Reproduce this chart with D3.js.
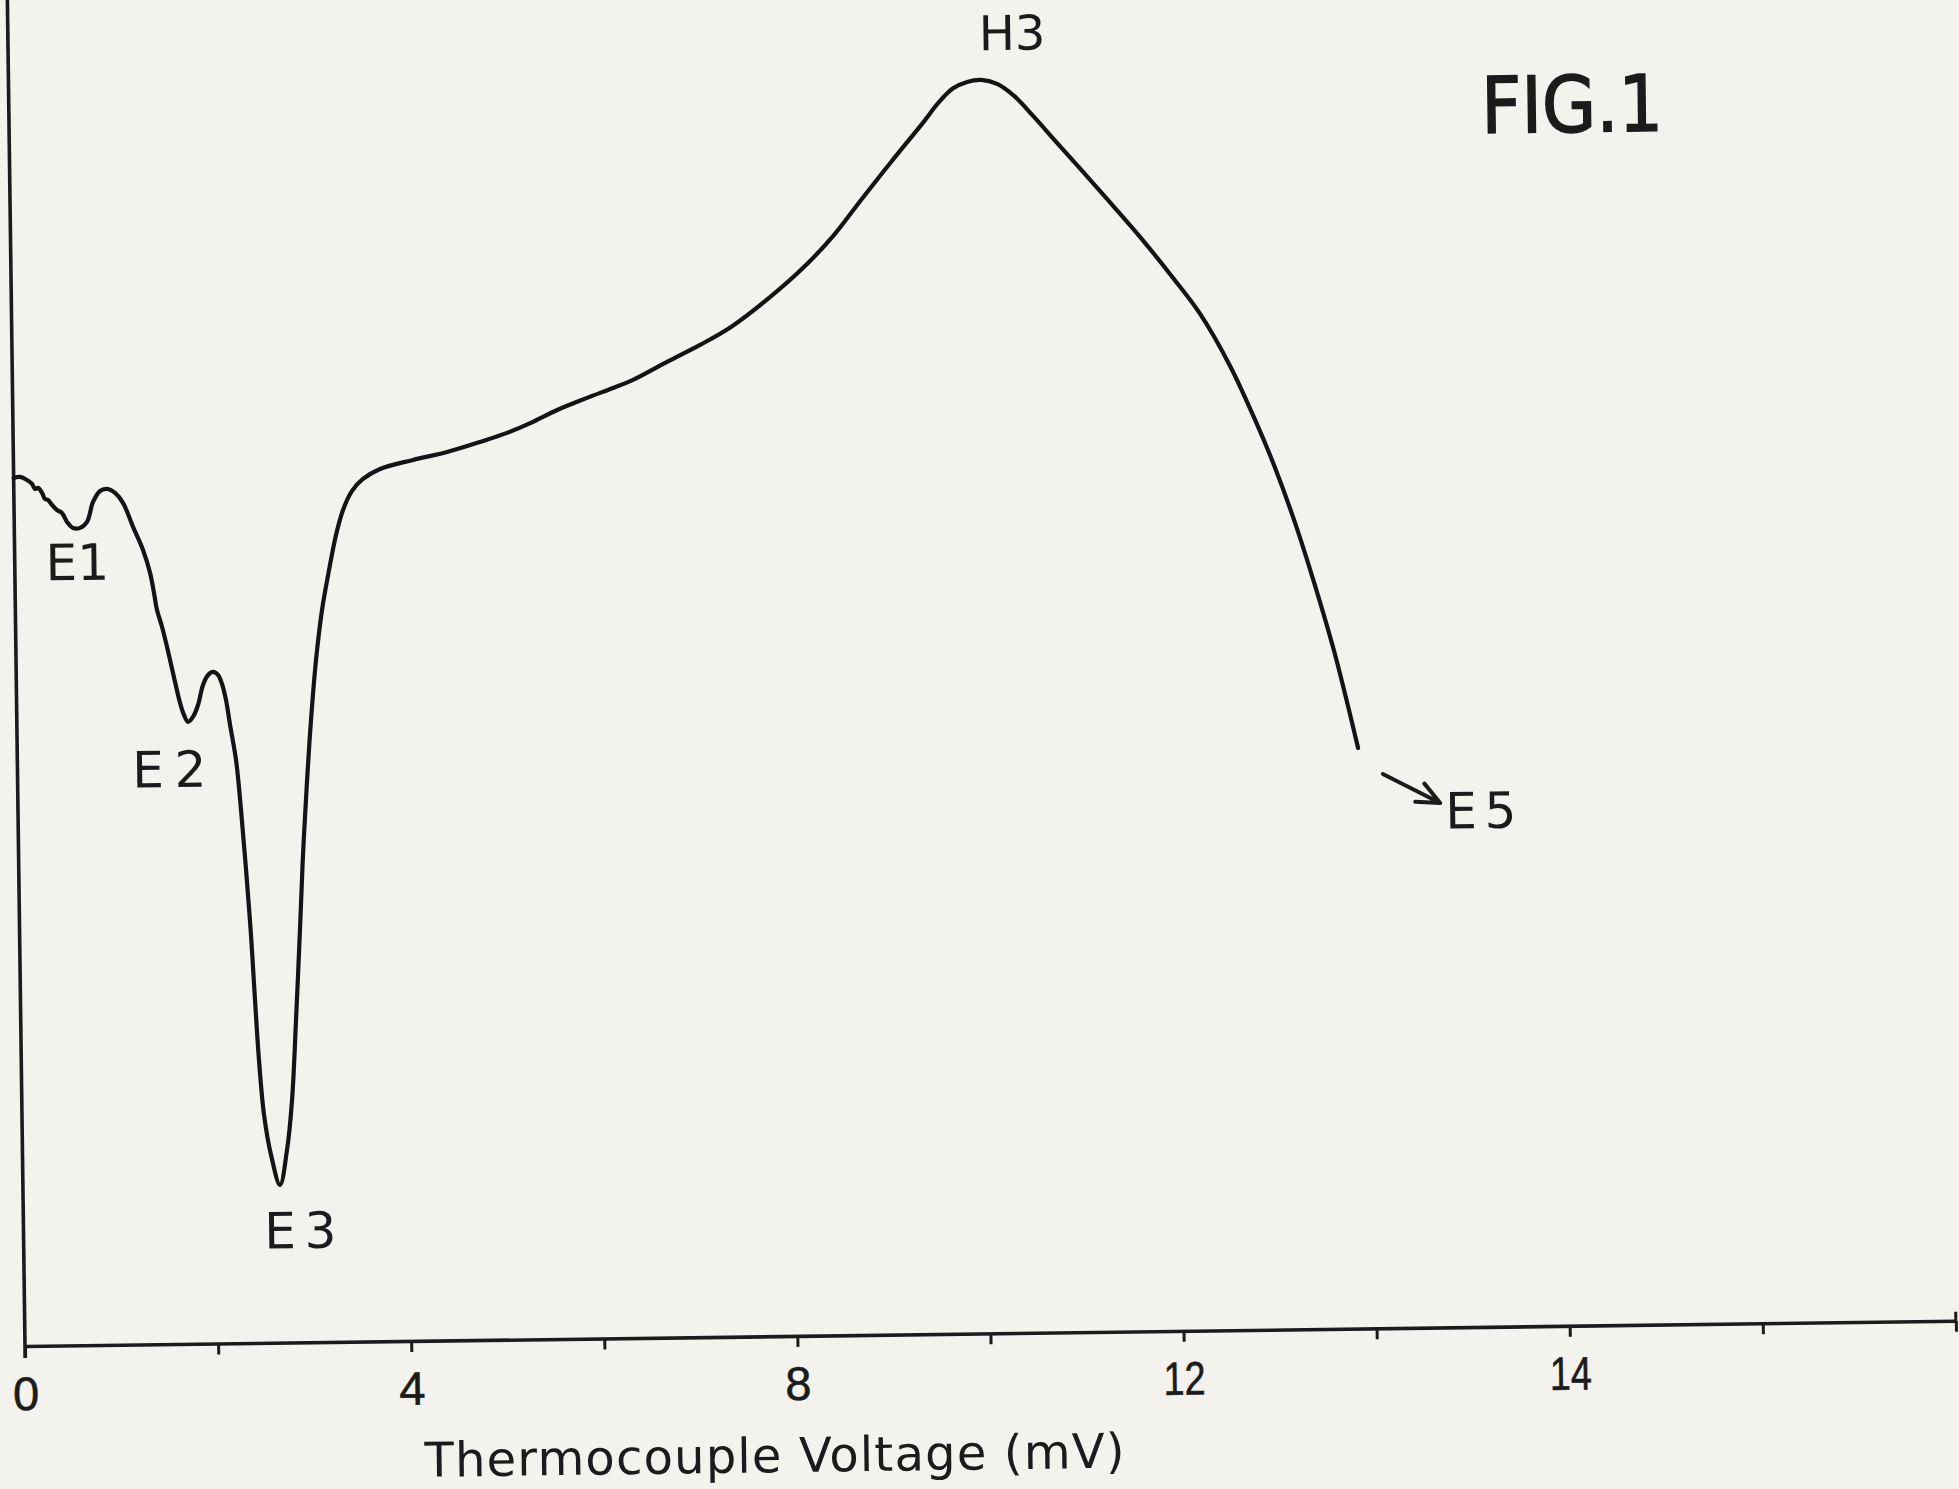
<!DOCTYPE html>
<html>
<head>
<meta charset="utf-8">
<script src="https://cdn.jsdelivr.net/npm/d3@7"></script>
<style>
  html, body { margin: 0; padding: 0; background: #f4f2ed; }
  svg { display: block; }
</style>
</head>
<body>
<svg id="chart" width="1959" height="1489"></svg>
<script>
// Differential thermal trace against thermocouple voltage (mV).
// Signal is in arbitrary chart units (no scale on the vertical axis).
const voltage = [0.000,0.066,0.138,0.190,0.220,0.251,0.292,0.322,0.353,0.394,0.445,0.496,0.547,0.608,0.681,0.754,0.819,0.893,0.965,1.048,1.129,1.230,1.330,1.400,1.438,1.467,1.517,1.566,1.624,1.693,1.732,1.773,1.825,1.879,1.933,1.987,2.039,2.090,2.130,2.169,2.208,2.265,2.310,2.354,2.396,2.429,2.462,2.507,2.574,2.663,2.740,2.799,2.851,2.904,2.947,2.998,3.047,3.107,3.176,3.254,3.331,3.407,3.503,3.618,3.796,4.139,4.492,4.835,5.116,5.387,5.638,5.949,6.220,6.428,6.783,7.127,7.450,7.848,8.246,8.530,8.814,9.130,9.456,9.636,9.782,9.928,10.074,10.238,10.413,10.607,10.842,11.117,11.423,11.740,12.035,12.310,12.613,12.865,13.066,13.265,13.464,13.662,13.887];
const signal = [66.78,66.85,66.61,66.30,65.91,65.99,65.60,65.13,65.05,64.66,64.27,64.04,63.34,62.87,62.87,63.32,64.85,65.69,65.84,65.52,64.75,62.89,61.11,59.34,57.79,56.48,55.17,53.63,51.62,49.31,48.38,47.84,48.22,49.13,50.67,51.43,51.66,51.42,50.72,49.49,47.56,44.86,41.01,36.39,31.39,26.38,21.76,17.53,14.44,12.13,14.81,18.65,24.80,31.72,37.64,43.25,47.87,52.48,56.32,59.39,62.07,63.99,65.44,66.35,67.10,67.76,68.34,69.08,69.75,70.57,71.46,72.36,73.10,73.70,75.05,76.32,77.67,79.87,82.44,84.65,87.31,90.20,93.10,94.77,95.80,96.28,96.42,96.10,95.16,93.60,91.58,89.24,86.60,83.80,80.99,78.20,74.17,69.99,66.28,62.03,57.16,51.83,44.66];

// Axis ticks every 2 mV; only some carry a label.
const axisTicks = [0,2,4,6,8,10,12,14,16,18,20];
const labelledTicks = [0,4,8,12,16];
const tickLabels = ["0","4","8","12","14"];

// Peak annotations (label centre in data units).
const peakNames  = ["E1","E2","E3","H3","E5"];
const peakLabelX = [0.648,1.573,2.867,10.40,15.15];
const peakLabelY = [58.87,42.85,7.26,98.70,38.38];

// Arrow pointing from the end of the trace towards E5.
const arrowFrom = [14.14, 42.63];
const arrowTo   = [14.73, 40.34];

const figureTitle = "FIG.1";
const figureTitlePos = [16.19, 91.83];
const xTitle = "Thermocouple Voltage (mV)";

// ---- layout ----
const originX = 25, originY = 1346, tilt = -0.75;
const ink = "#1b1b1b";

const x = d3.scaleLinear().domain([0, 20]).range([0, 1931]);
const y = d3.scaleLinear().domain([0, 100]).range([0, -1300]);

const svg = d3.select("#chart");
svg.append("rect").attr("width", 1959).attr("height", 1489).attr("fill", "#f4f2ed");

const g = svg.append("g")
  .attr("transform", `translate(${originX},${originY}) rotate(${tilt})`);

// vertical axis line (no ticks)
g.append("line")
  .attr("x1", 0).attr("x2", 0)
  .attr("y1", 12).attr("y2", -1420)
  .attr("stroke", ink).attr("stroke-width", 3.6);

// horizontal axis
const xAxis = d3.axisBottom(x)
  .tickValues(axisTicks)
  .tickSize(11)
  .tickSizeOuter(0)
  .tickFormat(d => {
    const i = labelledTicks.indexOf(d);
    return i < 0 ? "" : tickLabels[i];
  });

const gx = g.append("g").call(xAxis);
gx.select(".domain").attr("stroke", ink).attr("stroke-width", 3.6);
gx.selectAll(".tick line").attr("stroke", ink).attr("stroke-width", 3);
gx.selectAll(".tick text")
  .attr("y", 64).attr("dy", 0)
  .style("font-family", "'Liberation Sans', Arial, sans-serif")
  .style("font-size", "47px")
  .style("fill", ink)
  .style("stroke", ink)
  .style("stroke-width", 0.6)
  .each(function () {
    const t = d3.select(this);
    if (t.text().length > 1) {
      t.attr("textLength", 42).attr("lengthAdjust", "spacingAndGlyphs");
    }
  });

// closing tick at the end of the axis rises above the line as well
g.append("line")
  .attr("x1", x(20)).attr("x2", x(20))
  .attr("y1", 0).attr("y2", -9)
  .attr("stroke", ink).attr("stroke-width", 3);

// axis title
g.append("text")
  .attr("x", 748).attr("y", 136)
  .attr("text-anchor", "middle")
  .attr("textLength", 700).attr("lengthAdjust", "spacing")
  .style("font-family", "'DejaVu Sans', sans-serif")
  .style("font-size", "48px")
  .style("fill", ink)
  .text(xTitle);

// the trace
const pts = voltage.map((v, i) => [v, signal[i]]);
const line = d3.line()
  .x(d => x(d[0]))
  .y(d => y(d[1]))
  .curve(d3.curveCatmullRom.alpha(0.5));

g.append("path")
  .datum(pts)
  .attr("d", line)
  .attr("fill", "none")
  .attr("stroke", "#141414")
  .attr("stroke-width", 4.2)
  .attr("stroke-linejoin", "round")
  .attr("stroke-linecap", "round");

// peak labels
const labelSize = { E1: 50, E2: 50, E3: 50, H3: 48, E5: 50 };
const labelLen  = { E2: 74, E3: 72, E5: 71 };
peakNames.forEach((name, i) => {
  const t = g.append("text")
    .attr("x", x(peakLabelX[i]))
    .attr("y", y(peakLabelY[i]))
    .attr("text-anchor", "middle")
    .style("font-family", "'DejaVu Sans', sans-serif")
    .style("font-size", labelSize[name] + "px")
    .style("fill", ink)
    .text(name);
  if (labelLen[name]) t.attr("textLength", labelLen[name]).attr("lengthAdjust", "spacing");
});

// arrow to E5
const ax0 = x(arrowFrom[0]), ay0 = y(arrowFrom[1]);
const ax1 = x(arrowTo[0]),   ay1 = y(arrowTo[1]);
const ang = Math.atan2(ay1 - ay0, ax1 - ax0);
const barb = 25, spread = 24 * Math.PI / 180;
const arrowPath = d3.path();
arrowPath.moveTo(ax0, ay0);
arrowPath.lineTo(ax1, ay1);
arrowPath.moveTo(ax1 - barb * Math.cos(ang - spread), ay1 - barb * Math.sin(ang - spread));
arrowPath.lineTo(ax1, ay1);
arrowPath.lineTo(ax1 - barb * Math.cos(ang + spread), ay1 - barb * Math.sin(ang + spread));
g.append("path")
  .attr("d", arrowPath.toString())
  .attr("fill", "none")
  .attr("stroke", ink)
  .attr("stroke-width", 4)
  .attr("stroke-linecap", "round")
  .attr("stroke-linejoin", "round");

// figure number
g.append("text")
  .attr("x", x(figureTitlePos[0]))
  .attr("y", y(figureTitlePos[1]))
  .attr("text-anchor", "middle")
  .attr("textLength", 182).attr("lengthAdjust", "spacingAndGlyphs")
  .style("font-family", "'DejaVu Sans', sans-serif")
  .style("font-size", "78px")
  .style("fill", ink)
  .style("stroke", ink)
  .style("stroke-width", 1.6)
  .text(figureTitle);
</script>
</body>
</html>
